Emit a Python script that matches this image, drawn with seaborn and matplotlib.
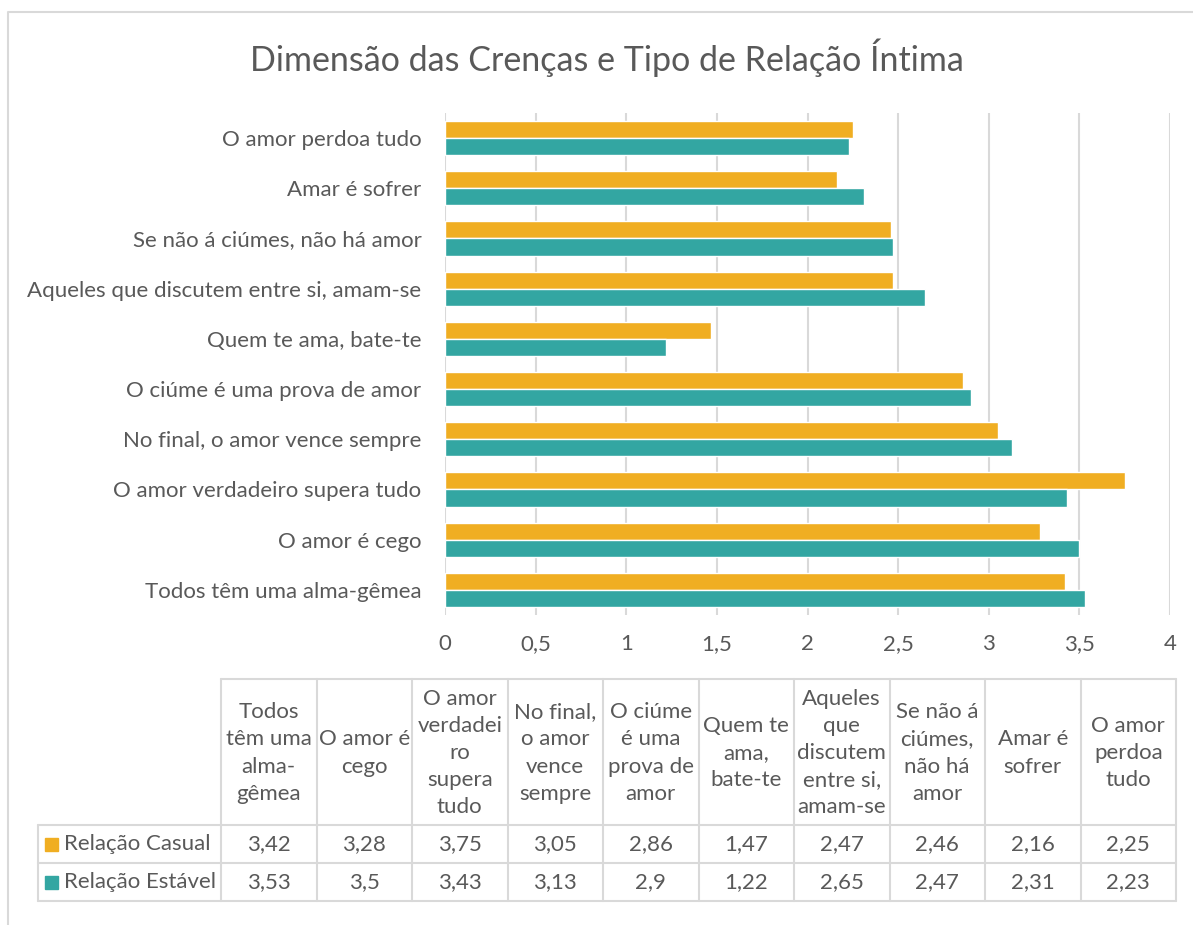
import numpy as np
import pandas as pd
import matplotlib.pyplot as plt
import seaborn as sns
from matplotlib.patches import Rectangle

# data (bottom to top in the chart, left to right in the table)
categories = ['Todos têm uma alma-gêmea', 'O amor é cego', 'O amor verdadeiro supera tudo',
              'No final, o amor vence sempre', 'O ciúme é uma prova de amor',
              'Quem te ama, bate-te', 'Aqueles que discutem entre si, amam-se',
              'Se não á ciúmes, não há amor', 'Amar é sofrer', 'O amor perdoa tudo']
table_headers = ['Todos\ntêm uma\nalma-\ngêmea', 'O amor é\ncego', 'O amor\nverdadei\nro\nsupera\ntudo',
                 'No final,\no amor\nvence\nsempre', 'O ciúme\né uma\nprova de\namor',
                 'Quem te\nama,\nbate-te', 'Aqueles\nque\ndiscutem\nentre si,\namam-se',
                 'Se não á\nciúmes,\nnão há\namor', 'Amar é\nsofrer', 'O amor\nperdoa\ntudo']
casual = [3.42, 3.28, 3.75, 3.05, 2.86, 1.47, 2.47, 2.46, 2.16, 2.25]
estavel = [3.53, 3.5, 3.43, 3.13, 2.9, 1.22, 2.65, 2.47, 2.31, 2.23]
series = ['Relação Casual', 'Relação Estável']
colors = ['#F0AE22', '#33A6A2']
x_ticks = [0, 0.5, 1, 1.5, 2, 2.5, 3, 3.5, 4]

df = pd.DataFrame({
    'crenca': categories * 2,
    'valor': casual + estavel,
    'relacao': [series[0]] * len(categories) + [series[1]] * len(categories),
})

sns.set_style('white')
plt.rcParams['font.family'] = ['Lato', 'DejaVu Sans']
txt = '#595959'
grid_c = '#D9D9D9'
fs = 16

W, H = 1193, 925
fig = plt.figure(figsize=(W / 100, H / 100), dpi=100)
ax = fig.add_axes([445 / W, 1 - 615 / H, (1170 - 445) / W, (615 - 113) / H])

sns.barplot(data=df, y='crenca', x='valor', hue='relacao', order=categories[::-1],
            hue_order=series, palette=colors, orient='h', width=0.68,
            saturation=1, ax=ax, legend=False)

ax.set_xlim(0, 4)
ax.set_xticks(x_ticks)
ax.set_xticklabels([f'{t:g}'.replace('.', ',') for t in x_ticks])
ax.xaxis.grid(True, color=grid_c, lw=1.5)
ax.set_axisbelow(True)
for s in ax.spines.values():
    s.set_visible(False)
ax.tick_params(axis='both', length=0, labelsize=fs, labelcolor=txt)
ax.tick_params(axis='x', pad=14)
ax.tick_params(axis='y', pad=17)
ax.set_xlabel('')
ax.set_ylabel('')

fig.text(607 / W, 1 - 58 / H, 'Dimensão das Crenças e Tipo de Relação Íntima',
         ha='center', va='center', fontsize=24.5, color=txt)

# overlay in pixel coordinates for the chart border and the data table
tax = fig.add_axes([0, 0, 1, 1], facecolor='none')
tax.set_xlim(0, W)
tax.set_ylim(H, 0)
tax.axis('off')
tax.plot([8, 8, W], [H, 12, 12], color=grid_c, lw=1.5)

col_x = np.linspace(221, 1176, len(categories) + 1)
y_head, y_r1, y_r2, y_bot = 679, 825, 863, 901
lab_x = 38
kw = dict(color=grid_c, lw=1.5)
tax.plot([col_x[0], col_x[-1]], [y_head, y_head], **kw)
for y in (y_r1, y_r2, y_bot):
    tax.plot([lab_x, col_x[-1]], [y, y], **kw)
tax.plot([lab_x, lab_x], [y_r1, y_bot], **kw)
for x in col_x:
    tax.plot([x, x], [y_head, y_bot], **kw)

for i, h in enumerate(table_headers):
    cx = (col_x[i] + col_x[i + 1]) / 2
    tax.text(cx, (y_head + y_r1) / 2 + 1, h, ha='center', va='center', fontsize=fs,
             color=txt, linespacing=1.45)

rows = [(y_r1, y_r2, casual), (y_r2, y_bot, estavel)]
for (ya, yb, vals), name, c in zip(rows, series, colors):
    cy = (ya + yb) / 2
    tax.add_patch(Rectangle((45, cy - 6.5), 13, 13, color=c))
    tax.text(64, cy, name, ha='left', va='center', fontsize=fs, color=txt)
    for i, v in enumerate(vals):
        cx = (col_x[i] + col_x[i + 1]) / 2
        tax.text(cx, cy, f'{v:g}'.replace('.', ','), ha='center', va='center',
                 fontsize=fs, color=txt)

fig.savefig('out.png', dpi=100, facecolor='white')
